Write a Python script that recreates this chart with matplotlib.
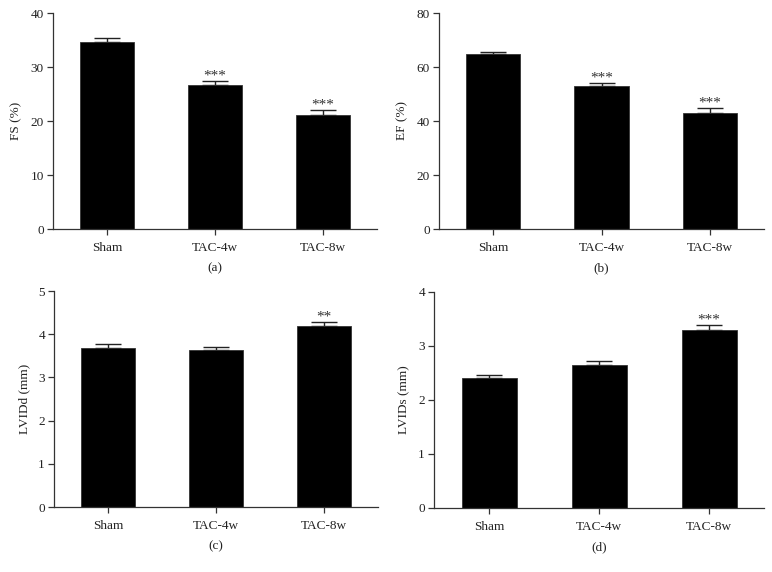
import matplotlib.pyplot as plt
import numpy as np

plt.rcParams['font.family'] = ['Liberation Serif', 'DejaVu Serif']

groups = ['Sham', 'TAC-4w', 'TAC-8w']

# mean values and upper error (SEM)
fs = [34.6, 26.7, 21.05]
fs_err = [0.7, 0.65, 1.05]
ef = [64.7, 53.1, 43.1]
ef_err = [0.9, 1.0, 1.7]
lvidd = [3.69, 3.63, 4.20]
lvidd_err = [0.08, 0.08, 0.08]
lvids = [2.40, 2.64, 3.30]
lvids_err = [0.06, 0.08, 0.09]

stars_fs = ['', '***', '***']
stars_ef = ['', '***', '***']
stars_lvidd = ['', '', '**']
stars_lvids = ['', '', '***']

panels = [
    # (rect in pixels: left, right, top, bottom), values, errors, stars, ylabel, ymax, tick step, tag
    ((53, 377, 13, 229), fs, fs_err, stars_fs, 'FS (%)', 40, 10, '(a)'),
    ((439, 764, 13, 229), ef, ef_err, stars_ef, 'EF (%)', 80, 20, '(b)'),
    ((54, 378, 291, 507), lvidd, lvidd_err, stars_lvidd, 'LVIDd (mm)', 5, 1, '(c)'),
    ((434, 764, 292, 508), lvids, lvids_err, stars_lvids, 'LVIDs (mm)', 4, 1, '(d)'),
]

W, H = 772, 572
fig = plt.figure(figsize=(W / 100, H / 100), dpi=100)

for (l, r, t, b), vals, errs, stars, ylab, ymax, step, tag in panels:
    ax = fig.add_axes([l / W, 1 - b / H, (r - l) / W, (b - t) / H])
    x = np.arange(len(groups))
    ax.bar(x, vals, width=0.5, color='black', edgecolor='#333333', linewidth=0.6, zorder=2)
    ax.errorbar(x, vals, yerr=[np.zeros(len(errs)), errs], fmt='none', ecolor='#222222',
                elinewidth=1.0, capsize=9.5, capthick=1.0, zorder=1)
    for xi, v, e, s in zip(x, vals, errs, stars):
        if s:
            ax.text(xi, v + e - ymax * 0.008, s, ha='center', va='bottom', fontsize=11,
                    color='#333333')
    ax.set_xlim(-0.5, 2.5)
    ax.set_ylim(0, ymax)
    ax.set_yticks(np.arange(0, ymax + step / 2, step))
    ax.set_xticks(x)
    ax.set_xticklabels(groups)
    ax.spines['top'].set_visible(False)
    ax.spines['right'].set_visible(False)
    for sp in ['left', 'bottom']:
        ax.spines[sp].set_linewidth(0.9)
        ax.spines[sp].set_color('#333333')
    ax.tick_params(axis='both', labelsize=9.5, length=4.5, width=0.9, color='#333333',
                   colors='#222222')
    ax.tick_params(axis='y', pad=2)
    ax.tick_params(axis='x', pad=5)
    ax.set_ylabel(ylab, fontsize=9.5, color='#222222', labelpad=6)
    ax.text(0.5, -0.18, tag, transform=ax.transAxes, ha='center', va='center',
            fontsize=9.5, color='#222222')

fig.savefig('out.png', dpi=100)
